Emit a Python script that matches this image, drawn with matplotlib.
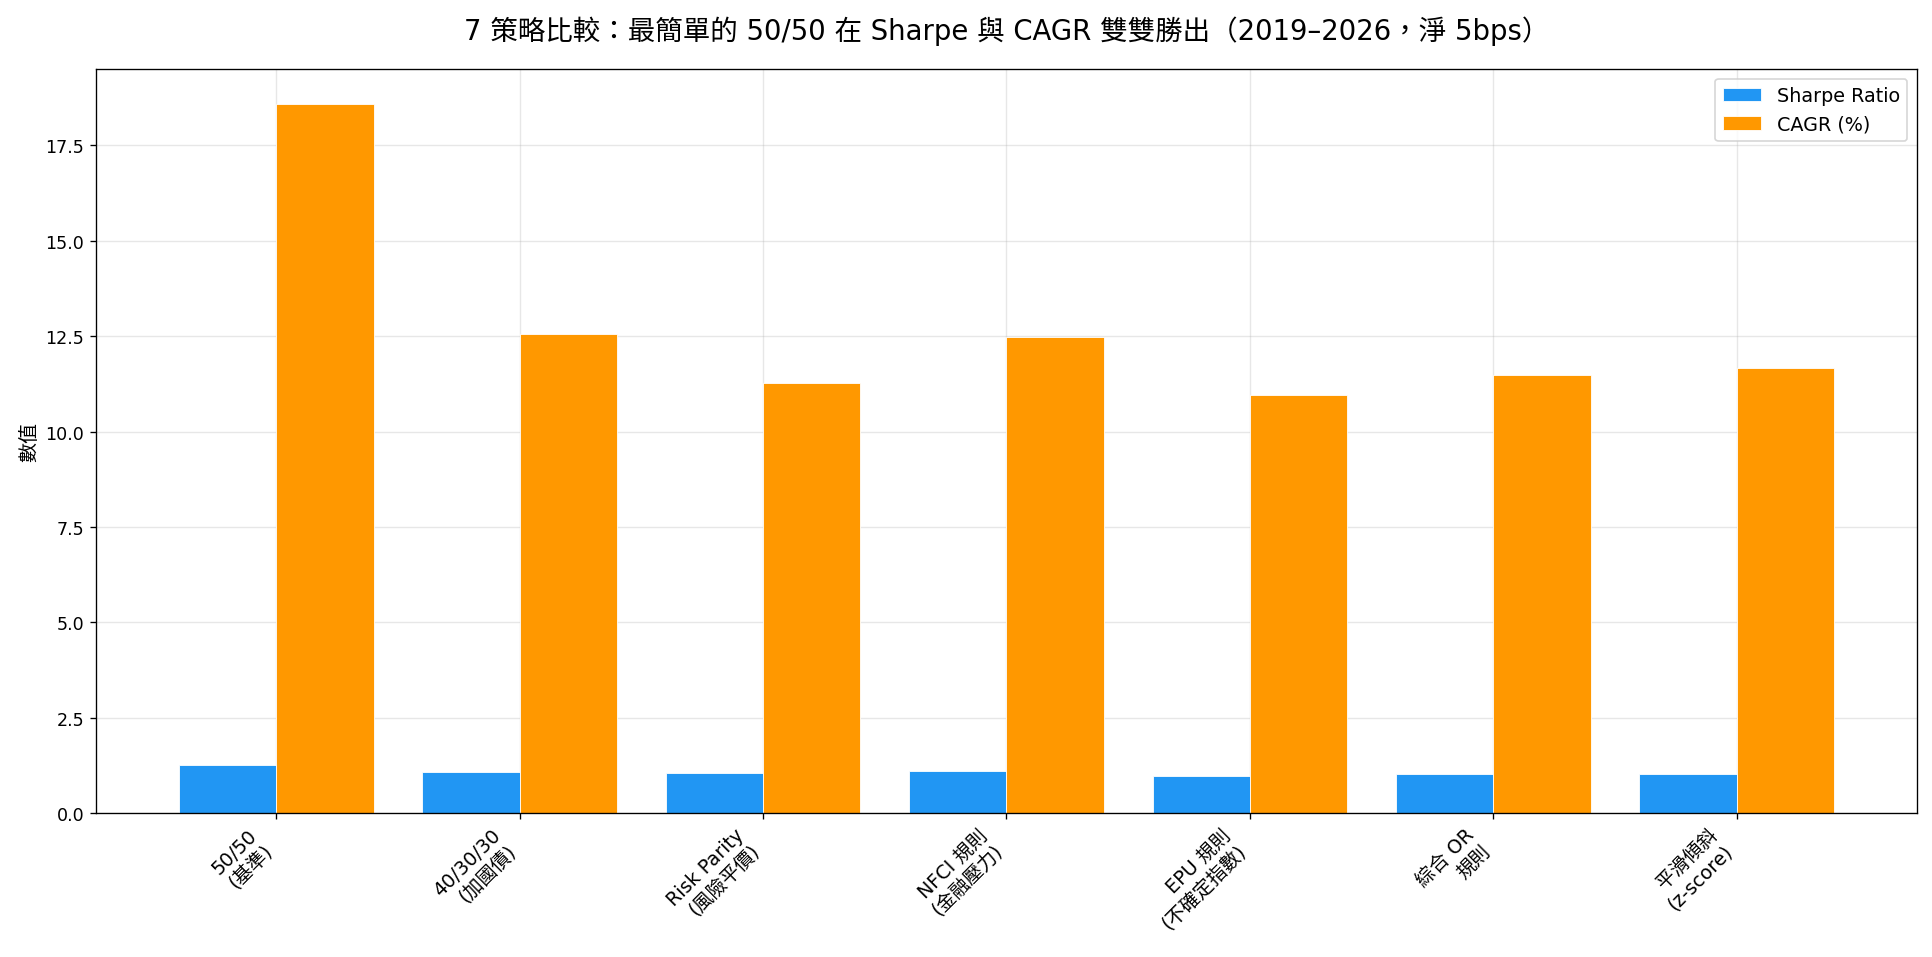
import matplotlib
matplotlib.use("Agg")
import matplotlib.pyplot as plt
import numpy as np

plt.rcParams['font.family'] = ['DejaVu Sans', 'Noto Sans CJK TC']
plt.rcParams['axes.unicode_minus'] = False

strategies = ["50/50\n(基準)", "40/30/30\n(加國債)", "Risk Parity\n(風險平價)",
              "NFCI 規則\n(金融壓力)", "EPU 規則\n(不確定指數)", "綜合 OR\n規則",
              "平滑傾斜\n(z-score)"]
sharpe = [1.27, 1.08, 1.06, 1.11, 0.98, 1.03, 1.03]
cagr = [18.57, 12.55, 11.27, 12.49, 10.95, 11.49, 11.67]

fig, ax = plt.subplots(figsize=(16.1, 7.983), dpi=120)
fig.subplots_adjust(left=0.0497, right=0.9922, top=0.927, bottom=0.150)

x = np.arange(len(strategies))
w = 0.4
ax.bar(x - w / 2, sharpe, w, label="Sharpe Ratio", color="#2196F3",
       edgecolor="white", linewidth=0.5)
ax.bar(x + w / 2, cagr, w, label="CAGR (%)", color="#FF9800",
       edgecolor="white", linewidth=0.5)

ax.set_xticks(x)
ax.set_xticklabels(strategies, rotation=45, ha="right", fontsize=11.5)
ax.tick_params(axis="y", labelsize=10.5)
ax.set_ylabel("數值", fontsize=12)
ax.set_title("7 策略比較：最簡單的 50/50 在 Sharpe 與 CAGR 雙雙勝出（2019–2026，淨 5bps）",
             fontsize=16.5, pad=18)
ax.legend(loc="upper right", fontsize=11.5)
ax.grid(True, alpha=0.3)
ax.set_axisbelow(True)

fig.savefig("out.png", dpi=120)
